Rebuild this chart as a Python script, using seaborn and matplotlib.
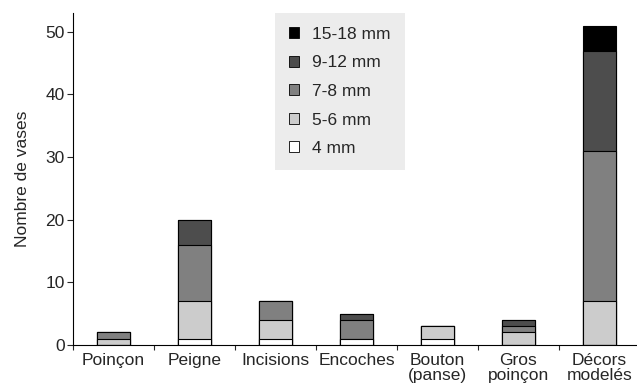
import numpy as np
import pandas as pd
import matplotlib
matplotlib.use('Agg')
import matplotlib.pyplot as plt
from matplotlib.patches import Patch
import seaborn as sns

# donnees
categories = ['Poinçon', 'Peigne', 'Incisions', 'Encoches', 'Bouton\n(panse)',
              'Gros\npoinçon', 'Décors\nmodelés']
mm4 = [0, 1, 1, 1, 1, 0, 0]
mm5_6 = [1, 6, 3, 0, 2, 2, 7]
mm7_8 = [1, 9, 3, 3, 0, 1, 24]
mm9_12 = [0, 4, 0, 1, 0, 1, 16]
mm15_18 = [0, 0, 0, 0, 0, 0, 4]

layers = ['4 mm', '5-6 mm', '7-8 mm', '9-12 mm', '15-18 mm']
colors = ['#ffffff', '#cccccc', '#808080', '#4d4d4d', '#000000']

df = pd.DataFrame({'cat': categories, '4 mm': mm4, '5-6 mm': mm5_6,
                   '7-8 mm': mm7_8, '9-12 mm': mm9_12, '15-18 mm': mm15_18})
cum = df[layers].cumsum(axis=1)

sns.set_style('ticks')
plt.rcParams['font.family'] = ['Liberation Sans', 'DejaVu Sans']

fig = plt.figure(figsize=(6.37, 3.86), dpi=100)
ax = fig.add_axes([0.1146, 0.1062, 0.890, 0.860])

# barres empilees: on dessine les cumuls du plus haut au plus bas
for lay, col in zip(layers[::-1], colors[::-1]):
    sns.barplot(x=df['cat'], y=cum[lay], color=col, edgecolor='black',
                linewidth=0.8, width=0.4, saturation=1, ax=ax, order=categories)

ax.set_xlim(-0.5, len(categories) - 0.5)
ax.set_ylim(0, 53)
ax.set_yticks([0, 10, 20, 30, 40, 50])
ax.set_ylabel('Nombre de vases', fontsize=12.5, labelpad=11)
ax.set_xlabel('')

# ticks entre les categories, etiquettes au centre
ax.set_xticks(np.arange(len(categories)) - 0.5)
ax.set_xticklabels([])
ax.set_xticks(np.arange(len(categories)), minor=True)
ax.set_xticklabels(categories, minor=True, fontsize=12.5, linespacing=0.95)
ax.tick_params(axis='x', which='minor', length=0, pad=6)
ax.tick_params(axis='x', which='major', length=3.5, width=0.8, direction='out')
ax.tick_params(axis='y', length=4, width=0.8, labelsize=12.5, pad=2)

sns.despine(ax=ax)
for s in ['left', 'bottom']:
    ax.spines[s].set_color('black')
    ax.spines[s].set_linewidth(0.8)

handles = [Patch(facecolor=c, edgecolor='black', linewidth=0.6, label=l)
           for l, c in zip(layers[::-1], colors[::-1])]
leg = ax.legend(handles=handles, loc='upper left', bbox_to_anchor=(0.356, 1.0),
                fontsize=12.5, frameon=True, facecolor='#ececec', edgecolor='none',
                framealpha=1, fancybox=False, handlelength=0.6, handleheight=0.6,
                labelspacing=0.78, borderpad=0.8, handletextpad=0.75,
                borderaxespad=0)

fig.savefig('out.png', dpi=100)
